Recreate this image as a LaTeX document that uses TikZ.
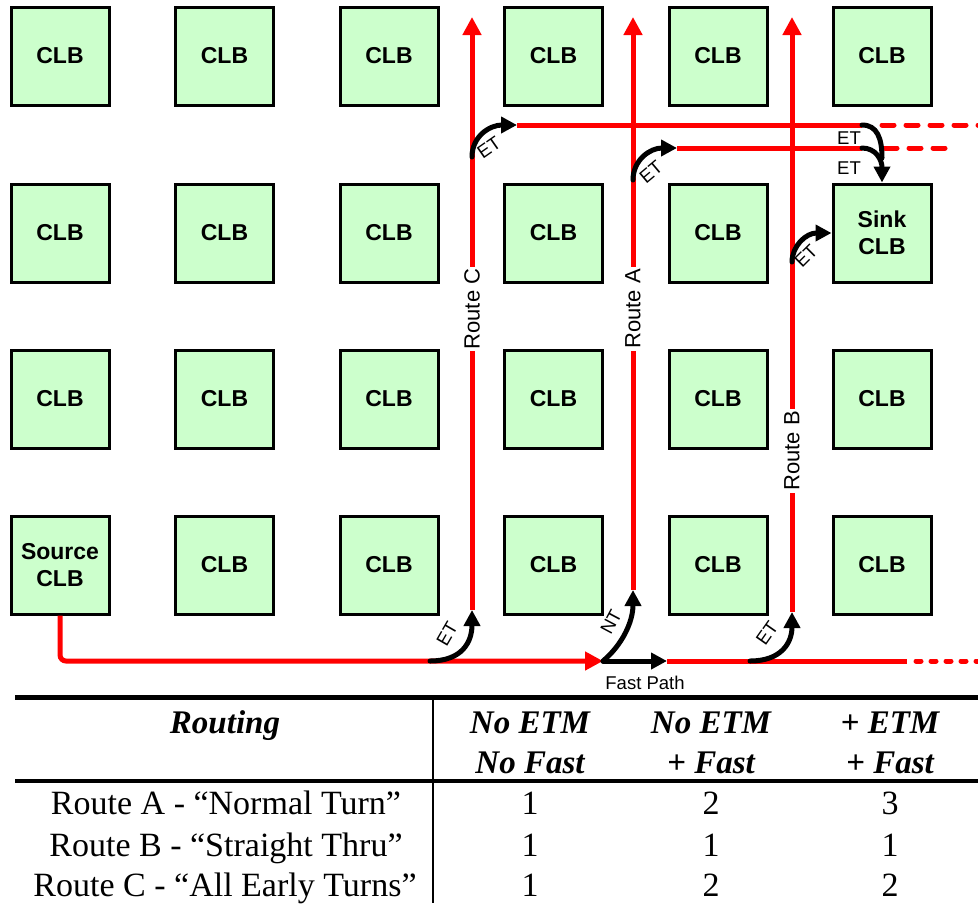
\documentclass[tikz,border=0pt]{standalone}
\usepackage{fontspec}
\setmainfont{Liberation Serif}
\newfontfamily\arialf{Liberation Sans}
\usetikzlibrary{arrows.meta}
\definecolor{clbgreen}{HTML}{CCFFCC}
\begin{document}
\begin{tikzpicture}[x=1pt,y=-1pt,
  clb/.style={draw=black, line width=3pt, fill=clbgreen, minimum width=98pt, minimum height=98pt, inner sep=0pt, align=center, font=\arialf\bfseries\fontsize{23}{27}\selectfont},
  redline/.style={draw=red, line width=5pt},
  redarrow/.style={redline, -{Triangle[length=18pt,width=18pt]}},
  reddots/.style={redline, line cap=round, dash pattern=on 12pt off 12pt},
  reddotsb/.style={redline, line cap=round, dash pattern=on 5pt off 10pt},
  turn/.style={draw=black, line width=5pt, line cap=round, -{Triangle[length=16pt,width=16pt]}},
  turnplain/.style={draw=black, line width=5pt, line cap=round},
  etlabel/.style={font=\arialf\fontsize{18.5}{22}\selectfont, inner sep=0pt},
  routelabel/.style={fill=white, rotate=90, font=\arialf\fontsize{22}{26}\selectfont, inner sep=2pt},
  thead/.style={font=\bfseries\itshape\fontsize{33}{40}\selectfont, anchor=base, inner sep=0pt},
  tcell/.style={font=\fontsize{34}{40}\selectfont, anchor=base, inner sep=0pt},
  rule/.style={draw=black, line width=5pt}
]
\useasboundingbox (0,0) rectangle (978,903);

% CLB grid
\foreach \r/\y in {1/56,2/233,3/399,4/565}{
  \foreach \c/\x in {1/60,2/224.5,3/389,4/553.5,5/718,6/882}{
    \ifnum\r\c=26\relax
    \else\ifnum\r\c=41\relax
    \else
      \node[clb] (c\r\c) at (\x,\y) {CLB};
    \fi\fi
  }
}
\node[clb] (sink) at (882,233) {Sink\\CLB};
\node[clb] (src) at (60,565) {Source\\CLB};

% coordinates
\coordinate (corner) at (60,661);
\coordinate (fp) at (603,661);
\coordinate (fpend) at (667,661);
\coordinate (bend) at (907,661);
\coordinate (bdots) at (916,661);
\coordinate (bright) at (978,661);
\coordinate (cEt) at (430,661);
\coordinate (bEt) at (750,661);
\coordinate (cBot) at (472,610);
\coordinate (aBot) at (633,590);
\coordinate (bBot) at (792,612);
\coordinate (cTop) at (472,17);
\coordinate (aTop) at (633,17);
\coordinate (bTop) at (792,17);
\coordinate (cUp) at (472,157);
\coordinate (aUp) at (633,180);
\coordinate (bUp) at (792,262);
\coordinate (l1s) at (517,125);
\coordinate (l1e) at (862,125);
\coordinate (l1d) at (882,125);
\coordinate (l1r) at (978,125);
\coordinate (l2s) at (677,148);
\coordinate (l2e) at (862,148);
\coordinate (l2d) at (885,148);
\coordinate (l2r) at (955,148);

% red routes
\draw[redarrow, rounded corners=6pt] (src.south) -- (corner) -- (fp);
\draw[redline] (fpend) -- (bend);
\draw[reddotsb] (bdots) -- (bright);
\draw[redarrow] (cBot) -- (cTop);
\draw[redarrow] (aBot) -- (aTop);
\draw[redarrow] (bBot) -- (bTop);
\draw[redline] (l1s) -- (l1e);
\draw[reddots] (l1d) -- (l1r);
\draw[redline] (l2s) -- (l2e);
\draw[reddots] (l2d) -- (l2r);

% black turns
\draw[turn] (cEt) .. controls (462,661) and (472,642) .. (cBot);
\draw[turn] (fp) .. controls (622,645) and (633,622) .. (aBot);
\draw[turn] (fp) -- (fpend);
\draw[turn] (bEt) .. controls (782,661) and (792,642) .. (bBot);
\draw[turn] (cUp) .. controls (472,136) and (490,125) .. (l1s);
\draw[turn] (aUp) .. controls (633,160) and (650,148) .. (l2s);
\draw[turn] (bUp) .. controls (792,246) and (806,233) .. (sink.west);
\draw[turnplain] (l1e) .. controls (877,125) and (882,138) .. (882,158);
\draw[turn] (l2e) .. controls (876,148) and (882,160) .. (sink.north);

% turn labels
\node[etlabel, rotate=60] (lbl1) at (447,634) {ET};
\node[etlabel, rotate=62] (lbl2) at (611,622) {NT};
\node[etlabel, rotate=55] (lbl3) at (767,633) {ET};
\node[etlabel, rotate=35] (lbl4) at (489,148) {ET};
\node[etlabel, rotate=40] (lbl5) at (651,172) {ET};
\node[etlabel, rotate=45] (lbl6) at (806,256) {ET};
\node[etlabel] (lbl7) at (849,138) {ET};
\node[etlabel] (lbl8) at (849,168) {ET};
\node[etlabel] (fplbl) at (645,683) {Fast Path};

% route labels
\node[routelabel] (rc) at (472,309) {Route C};
\node[routelabel] (ra) at (633,309) {Route A};
\node[routelabel] (rb) at (792,451) {Route B};

% table
\coordinate (t1l) at (15,697);
\coordinate (t1r) at (978,697);
\coordinate (t2l) at (15,781);
\coordinate (t2r) at (978,781);
\coordinate (vt) at (433,697);
\coordinate (vb) at (433,903);
\draw[rule] (t1l) -- (t1r);
\draw[rule, line width=4pt] (t2l) -- (t2r);
\draw[draw=black, line width=2.5pt] (vt) -- (vb);

\node[thead] (hr) at (225,733) {Routing};
\node[thead] (h1a) at (530,733) {No ETM};
\node[thead] (h1b) at (530,773) {No Fast};
\node[thead] (h2a) at (711,733) {No ETM};
\node[thead] (h2b) at (711,773) {+ Fast};
\node[thead] (h3a) at (890,733) {+ ETM};
\node[thead] (h3b) at (890,773) {+ Fast};

\node[tcell] (ra0) at (226,814) {Route A - “Normal Turn”};
\node[tcell] (ra1) at (530,814) {1};
\node[tcell] (ra2) at (711,814) {2};
\node[tcell] (ra3) at (890,814) {3};
\node[tcell] (rb0) at (226,856) {Route B - “Straight Thru”};
\node[tcell] (rb1) at (530,856) {1};
\node[tcell] (rb2) at (711,856) {1};
\node[tcell] (rb3) at (890,856) {1};
\node[tcell] (rc0) at (225,896) {Route C - “All Early Turns”};
\node[tcell] (rc1) at (530,896) {1};
\node[tcell] (rc2) at (711,896) {2};
\node[tcell] (rc3) at (890,896) {2};
\end{tikzpicture}
\end{document}
